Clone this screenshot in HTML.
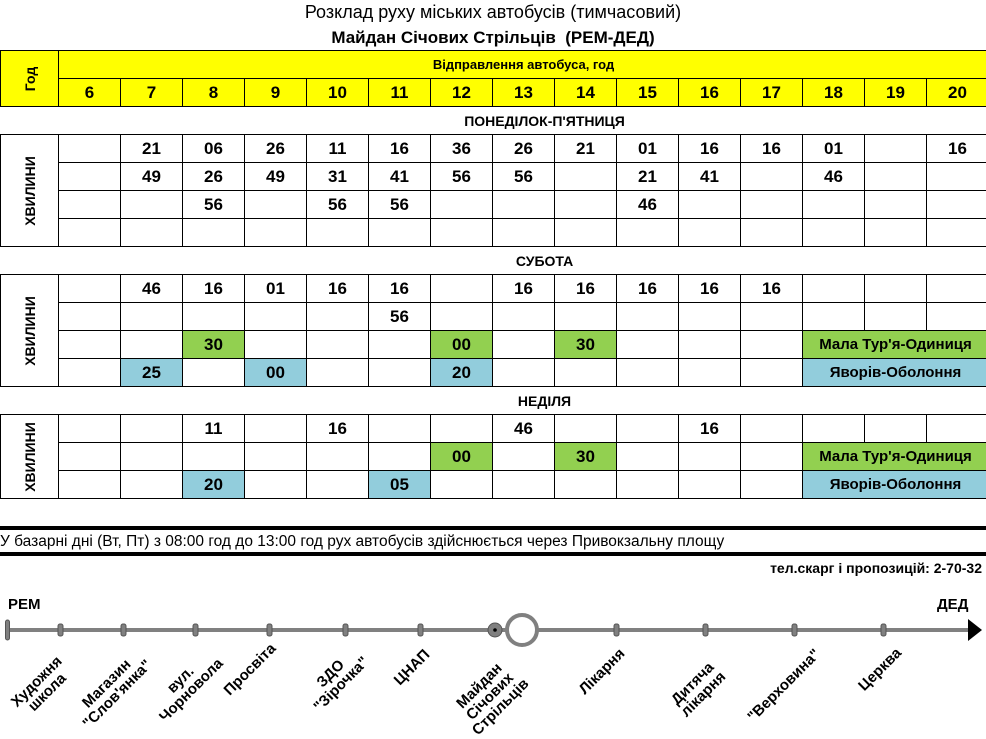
<!DOCTYPE html>
<html><head><meta charset="utf-8"><style>
html,body{margin:0;padding:0;width:986px;height:735px;overflow:hidden;background:#fff;font-family:"Liberation Sans",sans-serif;}
.t1{position:absolute;left:0;width:986px;top:0;text-align:center;font-size:18px;line-height:24px;}
.t2{position:absolute;left:0;width:986px;top:26px;text-align:center;font-size:17px;font-weight:bold;line-height:24px;}
table{position:absolute;left:0;top:50px;border-collapse:collapse;table-layout:fixed;width:989px;}
td{border:1px solid #000;height:27px;padding:0;text-align:center;font-weight:bold;font-size:17px;overflow:hidden;white-space:nowrap;}
.y{background:#ffff00;}
.g{background:#92d050;}
.b{background:#92cddc;}
.sec{font-size:14px;border-left:none;border-right:none;}
.v{position:relative;}
.v span{position:absolute;left:50%;top:50%;transform:translate(-50%,-50%) rotate(-90deg);font-size:14px;}
.m{font-size:15px;}
.note{position:absolute;left:0;top:526px;width:986px;height:22px;border-top:4px solid #000;border-bottom:4px solid #000;font-size:15.5px;line-height:24px;box-sizing:content-box;}
.ph{position:absolute;right:4px;top:560px;font-size:14px;font-weight:bold;}
.lbl{position:absolute;font-weight:bold;font-size:15px;line-height:15px;text-align:center;transform:translate(-50%,0) rotate(-45deg);transform-origin:center;white-space:nowrap;}
</style></head><body>
<div class="t1">Розклад руху міських автобусів (тимчасовий)</div>
<div class="t2">Майдан Січових Стрільців&nbsp; (РЕМ-ДЕД)</div>
<table>
<colgroup><col style="width:58px"><col span="15" style="width:62px"></colgroup>
<tr><td class="y v" rowspan="2"><span>Год</span></td><td class="y" colspan="15" style="font-size:13px">Відправлення автобуса, год</td></tr>
<tr class="y"><td class="y">6</td><td class="y">7</td><td class="y">8</td><td class="y">9</td><td class="y">10</td><td class="y">11</td><td class="y">12</td><td class="y">13</td><td class="y">14</td><td class="y">15</td><td class="y">16</td><td class="y">17</td><td class="y">18</td><td class="y">19</td><td class="y">20</td></tr>
<tr><td class="sec" colspan="16" style="text-align:center;padding-left:100px">ПОНЕДІЛОК-П'ЯТНИЦЯ</td></tr>
<tr><td class="v" rowspan="4"><span>ХВИЛИНИ</span></td><td></td><td>21</td><td>06</td><td>26</td><td>11</td><td>16</td><td>36</td><td>26</td><td>21</td><td>01</td><td>16</td><td>16</td><td>01</td><td></td><td>16</td></tr>
<tr><td></td><td>49</td><td>26</td><td>49</td><td>31</td><td>41</td><td>56</td><td>56</td><td></td><td>21</td><td>41</td><td></td><td>46</td><td></td><td></td></tr>
<tr><td></td><td></td><td>56</td><td></td><td>56</td><td>56</td><td></td><td></td><td></td><td>46</td><td></td><td></td><td></td><td></td><td></td></tr>
<tr><td></td><td></td><td></td><td></td><td></td><td></td><td></td><td></td><td></td><td></td><td></td><td></td><td></td><td></td><td></td></tr>
<tr><td class="sec" colspan="16" style="padding-left:100px">СУБОТА</td></tr>
<tr><td class="v" rowspan="4"><span>ХВИЛИНИ</span></td><td></td><td>46</td><td>16</td><td>01</td><td>16</td><td>16</td><td></td><td>16</td><td>16</td><td>16</td><td>16</td><td>16</td><td></td><td></td><td></td></tr>
<tr><td></td><td></td><td></td><td></td><td></td><td>56</td><td></td><td></td><td></td><td></td><td></td><td></td><td></td><td></td><td></td></tr>
<tr><td></td><td></td><td class="g">30</td><td></td><td></td><td></td><td class="g">00</td><td></td><td class="g">30</td><td></td><td></td><td></td><td class="g m" colspan="3">Мала Тур'я-Одиниця</td></tr>
<tr><td></td><td class="b">25</td><td></td><td class="b">00</td><td></td><td></td><td class="b">20</td><td></td><td></td><td></td><td></td><td></td><td class="b m" colspan="3">Яворів-Оболоння</td></tr>
<tr><td class="sec" colspan="16" style="padding-left:100px">НЕДІЛЯ</td></tr>
<tr><td class="v" rowspan="3"><span>ХВИЛИНИ</span></td><td></td><td></td><td>11</td><td></td><td>16</td><td></td><td></td><td>46</td><td></td><td></td><td>16</td><td></td><td></td><td></td><td></td></tr>
<tr><td></td><td></td><td></td><td></td><td></td><td></td><td class="g">00</td><td></td><td class="g">30</td><td></td><td></td><td></td><td class="g m" colspan="3">Мала Тур'я-Одиниця</td></tr>
<tr><td></td><td></td><td class="b">20</td><td></td><td></td><td class="b">05</td><td></td><td></td><td></td><td></td><td></td><td></td><td class="b m" colspan="3">Яворів-Оболоння</td></tr>
</table>
<div class="note">У базарні дні (Вт, Пт) з 08:00 год до 13:00 год рух автобусів здійснюється через Привокзальну площу</div>
<div class="ph">тел.скарг і пропозицій: 2-70-32</div>
<div style="position:absolute;left:8px;top:596px;font-weight:bold;font-size:15px">РЕМ</div>
<div style="position:absolute;left:937px;top:596px;font-weight:bold;font-size:15px">ДЕД</div>
<svg style="position:absolute;left:0;top:0" width="986" height="735">
<line x1="8" y1="630" x2="970" y2="630" stroke="#808080" stroke-width="4"/>
<polygon points="968,619 982,630 968,641" fill="#000"/>
<g fill="#808080" stroke="#555" stroke-width="1">
<rect x="5.5" y="620" width="4" height="20" rx="2"/>
<rect x="58" y="624" width="5" height="12" rx="2"/>
<rect x="121" y="624" width="5" height="12" rx="2"/>
<rect x="193" y="624" width="5" height="12" rx="2"/>
<rect x="267" y="624" width="5" height="12" rx="2"/>
<rect x="343" y="624" width="5" height="12" rx="2"/>
<rect x="418" y="624" width="5" height="12" rx="2"/>
<rect x="614" y="624" width="5" height="12" rx="2"/>
<rect x="703" y="624" width="5" height="12" rx="2"/>
<rect x="792" y="624" width="5" height="12" rx="2"/>
<rect x="881" y="624" width="5" height="12" rx="2"/>
<circle cx="495" cy="630" r="7"/>
</g>
<circle cx="495" cy="630" r="1.8" fill="#000"/>
<circle cx="522" cy="630" r="15" fill="#fff" stroke="#808080" stroke-width="4"/>
</svg>
<div class="lbl" style="left:42px;top:672px">Художня<br>школа</div>
<div class="lbl" style="left:112px;top:674px">Магазин<br>"Слов'янка"</div>
<div class="lbl" style="left:186px;top:670px">вул.<br>Чорновола</div>
<div class="lbl" style="left:250px;top:662px">Просвіта</div>
<div class="lbl" style="left:336px;top:664px">ЗДО<br>"Зірочка"</div>
<div class="lbl" style="left:412px;top:660px">ЦНАП</div>
<div class="lbl" style="left:490px;top:674px">Майдан<br>Січових<br>Стрільців</div>
<div class="lbl" style="left:602px;top:664px">Лікарня</div>
<div class="lbl" style="left:698px;top:674px">Дитяча<br>лікарня</div>
<div class="lbl" style="left:784px;top:678px">"Верховина"</div>
<div class="lbl" style="left:880px;top:662px">Церква</div>
</body></html>
